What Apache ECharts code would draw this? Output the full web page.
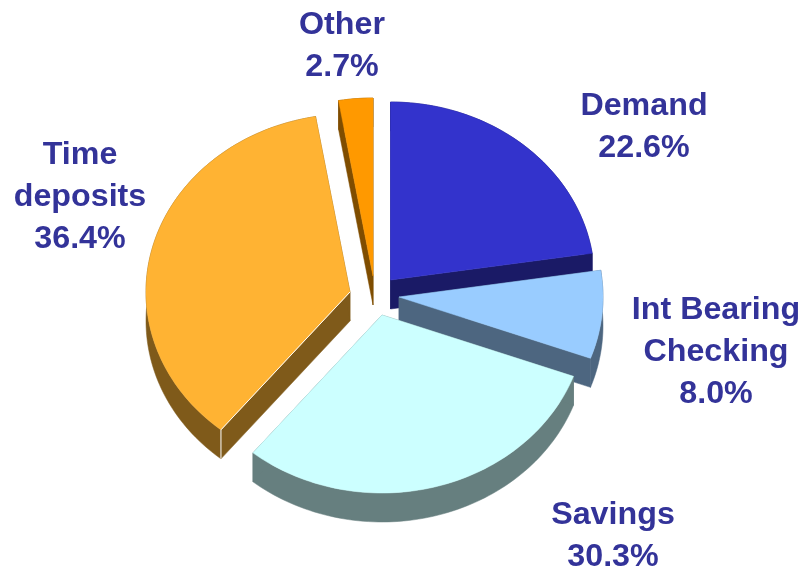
<!DOCTYPE html>
<html>
<head>
<meta charset="utf-8">
<style>
    html, body { margin: 0; padding: 0; background: #fff; }
    #chart { width: 800px; height: 570px; }
</style>
<script src="https://cdn.jsdelivr.net/npm/echarts@6/dist/echarts.min.js"></script>
</head>
<body>
<div id="chart"></div>
<script>
// values, clockwise from 12 o'clock
var names = ['Demand', 'Int Bearing\nChecking', 'Savings', 'Time\ndeposits', 'Other'];
var shares = [22.6, 8.0, 30.3, 36.4, 2.7];

// look of the slices
var topColors = ['#3333CC', '#99CCFF', '#CCFFFF', '#FFB333', '#FF9900'];
var sideColors = ['#1A1A66', '#4D6680', '#667F7F', '#7F5A1A', '#7F4D00'];
var seamColors = [null, null, null, '#FFFFFF', null];
var explodeX = [12.5, 21, 4, -28, -5];
var explodeY = [-6, 11, 29, 6, -10];
var labelX = [644, 716, 613, 80, 342];
var labelY = [127, 352, 536, 197, 46];
var paintOrder = [1, 3, 4, 2, 0]; // back slices first

var centerX = 378, centerY = 286;
var radiusX = 204, radiusY = 178;
var depth = 29;
var labelFont = 'bold 31px "Liberation Sans", Arial, sans-serif';
var labelStretch = 1.04;

var total = shares.reduce(function (a, b) { return a + b; }, 0);

function rimPoint(cx, cy, angle) {
    return [cx + radiusX * Math.sin(angle), cy - radiusY * Math.cos(angle)];
}

function shifted(points) {
    return points.map(function (p) { return [p[0], p[1] + depth]; });
}

function renderSlice(params, api) {
    var i = params.dataIndex;
    var before = shares.slice(0, i).reduce(function (a, b) { return a + b; }, 0);
    var start = before / total * Math.PI * 2;
    var end = start + api.value(0) / total * Math.PI * 2;
    var cx = centerX + explodeX[i];
    var cy = centerY + explodeY[i];

    var apex = [cx, cy];
    var rim = [];
    var steps = Math.max(4, Math.ceil((end - start) * 40));
    for (var s = 0; s <= steps; s++) {
        rim.push(rimPoint(cx, cy, start + (end - start) * s / steps));
    }
    var first = rim[0], last = rim[rim.length - 1];
    var z = paintOrder[i] * 10;

    function poly(points, color, zAdd) {
        return {
            type: 'polygon',
            z2: z + zAdd,
            shape: { points: points },
            style: { fill: color, stroke: color, lineWidth: 0.5 }
        };
    }

    var children = [
        // side walls, then the top face over them
        poly(rim.concat(shifted(rim).reverse()), sideColors[i], 1),
        poly([apex, first].concat(shifted([first, apex])), sideColors[i], 1),
        poly([apex, last].concat(shifted([last, apex])), sideColors[i], 1),
        poly([apex].concat(rim), topColors[i], 2),
        {
            type: 'text',
            z2: 100,
            x: labelX[i],
            y: labelY[i],
            scaleX: labelStretch,
            style: {
                text: names[i] + '\n' + api.value(0).toFixed(1) + '%',
                fill: '#333399',
                font: labelFont,
                lineHeight: 42,
                align: 'center',
                verticalAlign: 'middle'
            }
        }
    ];

    if (seamColors[i]) {
        children.push({
            type: 'polyline',
            z2: z + 3,
            shape: { points: [apex, first, shifted([first])[0]] },
            style: { fill: null, stroke: seamColors[i], lineWidth: 1 }
        });
    }

    return { type: 'group', children: children };
}

var chart = echarts.init(document.getElementById('chart'), null, { renderer: 'canvas' });
chart.setOption({
    animation: false,
    backgroundColor: '#fff',
    series: [{
        type: 'custom',
        coordinateSystem: 'none',
        renderItem: renderSlice,
        data: shares.map(function (v) { return [v]; })
    }]
});
</script>
</body>
</html>
